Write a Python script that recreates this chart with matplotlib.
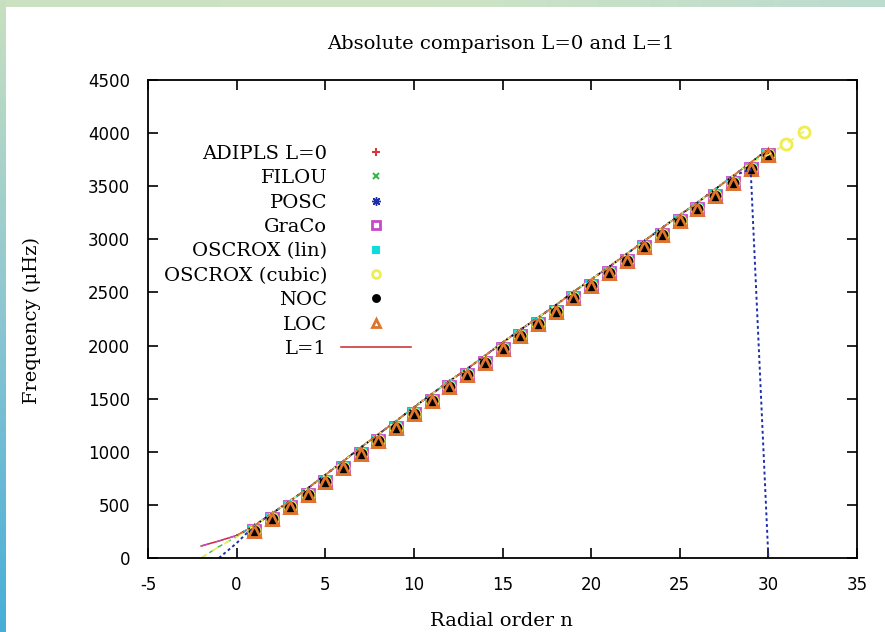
import matplotlib
matplotlib.use("Agg")
import matplotlib.pyplot as plt
import numpy as np

# radial orders and L=0 frequencies (muHz)
n_l0 = list(range(1, 31))
f_l0 = [257, 364, 477, 593, 719, 845, 979, 1102, 1227, 1356,
        1481, 1607, 1720, 1839, 1968, 2090, 2203, 2316, 2445, 2565,
        2681, 2797, 2926, 3044, 3171, 3284, 3409, 3534, 3660, 3795]
# OSCROX (cubic) finds two more L=0 modes
n_cubic_extra = [31, 32]
f_cubic_extra = [3900, 4015]

# L=1 frequencies
n_l1 = list(range(-2, 31))
f_l1 = [113, 160, 212, 305, 420, 535, 655, 782, 910, 1040, 1165,
        1290, 1418, 1543, 1665, 1780, 1903, 2028, 2148, 2262, 2380,
        2505, 2622, 2740, 2862, 2985, 3108, 3228, 3347, 3472, 3597,
        3722, 3850]
f_l1_filou_low = [0, 107, 200]
f_l1_posc_low = [0, 140]
f_l1_posc_end = [3660, 0]

codes = ["ADIPLS L=0", "FILOU", "POSC", "GraCo", "OSCROX (lin)",
         "OSCROX (cubic)", "NOC", "LOC"]
colors = ["#d63a3a", "#3cb84a", "#1e2ea8", "#c848c8", "#10dcdc",
          "#eeee50", "#000000", "#e0742a"]
markers = ["+", "x", (8, 2, 0), "s", "s", "o", "o", "^"]
filled = [True, True, True, False, True, False, True, False]
sizes = [8, 7, 9, 8, 7, 8, 7, 9]
edges = [1.5, 1.5, 1.0, 2.0, 1.5, 2.0, 1.5, 2.0]

plt.rcParams["font.family"] = "DejaVu Sans"
plt.rcParams["axes.unicode_minus"] = False
fig = plt.figure(figsize=(8.85, 6.32), dpi=100)
fig.patch.set_facecolor("white")

# page decoration: green band on top, gradient strip on the left
band = fig.add_axes([0, 1 - 7 / 632, 1, 7 / 632])
band.imshow(np.linspace(0, 1, 256)[None, :], aspect="auto",
            cmap=matplotlib.colors.LinearSegmentedColormap.from_list(
                "band", ["#cbe2c2", "#cde3c4", "#bcdcd0"]))
band.axis("off")
strip = fig.add_axes([0, 0, 6 / 885, 1])
strip.imshow(np.linspace(0, 1, 256)[:, None], aspect="auto",
             cmap=matplotlib.colors.LinearSegmentedColormap.from_list(
                 "strip", ["#c8e0c0", "#8cc6d2", "#48aed8"]))
strip.axis("off")

ax = fig.add_axes([148 / 885, 74 / 632, 709 / 885, 478 / 632])

for i, name in enumerate(codes):
    xs = n_l0 + (n_cubic_extra if name == "OSCROX (cubic)" else [])
    ys = f_l0 + (f_cubic_extra if name == "OSCROX (cubic)" else [])
    if filled[i]:
        ax.plot(xs, ys, linestyle="none", marker=markers[i], color=colors[i],
                markersize=sizes[i], markeredgewidth=edges[i], label=name)
    else:
        ax.plot(xs, ys, linestyle="none", marker=markers[i],
                markerfacecolor="none", markeredgecolor=colors[i],
                markersize=sizes[i], markeredgewidth=edges[i], label=name)

# L=1 curves, one per code
ax.plot(n_l1, f_l1, color="#c82828", lw=1.1, label="L=1")
ax.plot(n_l1, f_l1_filou_low + f_l1[3:], color=colors[1], lw=1,
        dashes=(4, 3))
ax.plot(n_l1[1:], f_l1_posc_low + f_l1[3:-2] + f_l1_posc_end,
        color=colors[2], lw=1.4, dashes=(1.5, 1.5))
ax.plot(n_l1, f_l1, color=colors[3], lw=1, dashes=(5, 2, 1, 2))
ax.plot(n_l1[2:], f_l1[2:], color=colors[4], lw=1, dashes=(2, 3))
ax.plot(n_l1 + n_cubic_extra,
        f_l1_filou_low + f_l1[3:-1] + [f_l0[-1]] + f_cubic_extra,
        color="#eeee60", lw=1.2, dashes=(4, 4))
ax.plot(n_l1[2:], f_l1[2:], color="#000000", lw=1.2, dashes=(1, 3))
ax.plot(n_l1[2:], f_l1[2:], color=colors[7], lw=1, dashes=(6, 3, 1, 3))

ax.set_xlim(-5, 35)
ax.set_ylim(0, 4500)
ax.set_xticks(range(-5, 36, 5))
ax.set_yticks(range(0, 4501, 500))
ax.tick_params(direction="in", length=7, width=1.2, labelsize=12, pad=13,
               top=True, right=True)
for s in ax.spines.values():
    s.set_linewidth(1.3)

leg = ax.legend(loc="upper right", bbox_to_anchor=(0.385, 0.885),
                markerfirst=False, frameon=False, borderpad=0,
                handlelength=3.6, handletextpad=0.72, labelspacing=0.33,
                markerscale=0.7,
                prop={"family": "DejaVu Serif", "size": 14})

fig.text(501 / 885, 1 - 44 / 632, "Absolute comparison L=0 and L=1",
         ha="center", va="center", family="DejaVu Serif", fontsize=14)
fig.text(501 / 885, 1 - 621 / 632, "Radial order n",
         ha="center", va="center", family="DejaVu Serif", fontsize=14)
fig.text(32 / 885, 1 - 320 / 632, "Frequency (μHz)", rotation=90,
         ha="center", va="center", family="DejaVu Serif", fontsize=14)

fig.savefig("out.png", dpi=100)
